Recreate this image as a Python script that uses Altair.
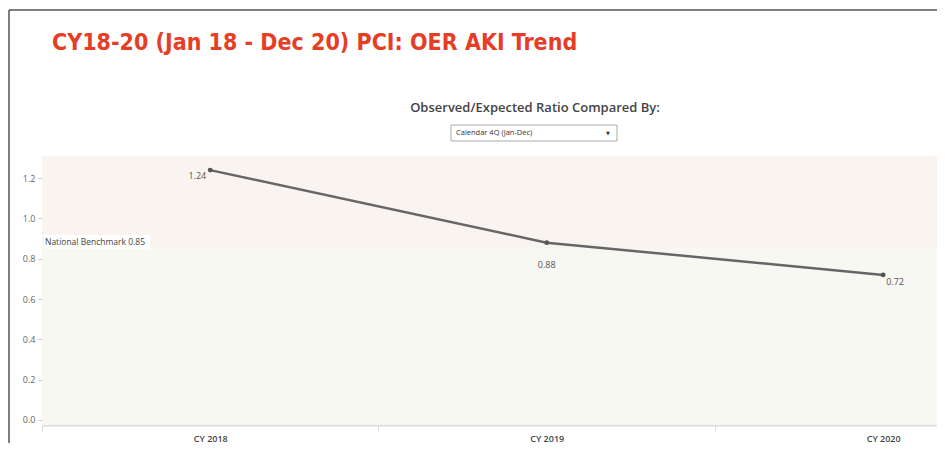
import json
import altair as alt
import pandas as pd

# ---- data ----
categories = ["CY 2018", "CY 2019", "CY 2020"]
ratios = [1.24, 0.88, 0.72]
benchmark = 0.85
benchmark_label = "National Benchmark 0.85"
y_ticks = [0.0, 0.2, 0.4, 0.6, 0.8, 1.0, 1.2]
title_text = "CY18-20 (Jan 18 - Dec 20) PCI: OER AKI Trend"
subtitle_text = "Observed/Expected Ratio Compared By:"
dropdown_text = "Calendar 4Q (Jan-Dec)"

# scale extents
y_domain = [-0.025, 1.31]
x_domain = [-0.5, 2.16]

W, H = 895, 269

df = pd.DataFrame({
    "idx": list(range(len(categories))),
    "cat": categories,
    "ratio": ratios,
    "label": [f"{v:.2f}" for v in ratios],
})

bands = pd.DataFrame({
    "lo": [benchmark, y_domain[0]],
    "hi": [y_domain[1], benchmark],
    "zone": ["above", "below"],
})

cats_js = json.dumps(categories)

x_scale = alt.Scale(domain=x_domain, nice=False, zero=False)
y_scale = alt.Scale(domain=y_domain, nice=False, zero=False)

x_axis = alt.Axis(
    values=[-0.5, 0, 0.5, 1, 1.5, 2],
    labelExpr=f"datum.value % 1 === 0 ? {cats_js}[datum.value] : ''",
    title=None, grid=False,
    labelColor="#444", labelFontSize=9, labelFontWeight=600, labelFont="Open Sans",
    labelPadding=3,
    domainColor="#dcdcdc", domainWidth=2,
    tickColor="#dcdcdc", tickSize=6,
    tickOpacity={"condition": {"test": "datum.value % 1 !== 0", "value": 1}, "value": 0},
)
y_axis = alt.Axis(
    values=y_ticks, format=".1f", title=None, grid=False,
    labelColor="#666", labelFontSize=9, labelFont="Open Sans", labelPadding=3,
    tickColor="#cccccc", tickSize=4, domainColor="#e6e6e6",
)

band_layer = alt.Chart(bands).mark_rect(opacity=1).encode(
    x=alt.datum(x_domain[0], type="quantitative", scale=x_scale, axis=x_axis),
    x2=alt.datum(x_domain[1]),
    y=alt.Y("lo:Q", scale=y_scale, axis=y_axis),
    y2="hi:Q",
    color=alt.Color("zone:N", scale=alt.Scale(domain=["above", "below"],
                                              range=["#f9f4ef", "#f7f8f1"]), legend=None),
)

bench_df = pd.DataFrame({"b": [benchmark], "t": [benchmark_label]})
bench_box = alt.Chart(bench_df).mark_rect(color="white", y2Offset=-14).encode(
    x=alt.value(2), x2=alt.value(108), y="b:Q", y2="b:Q")
bench_text = alt.Chart(bench_df).mark_text(
    align="left", baseline="bottom", dx=3, dy=-2, fontSize=8.5, font="Open Sans", color="#444"
).encode(x=alt.value(0), y="b:Q", text="t:N")

line = alt.Chart(df).mark_line(color="#666666", strokeWidth=2.5).encode(
    x=alt.X("idx:Q"), y=alt.Y("ratio:Q"))
pts = alt.Chart(df).mark_point(filled=True, size=24, color="#555555", opacity=1).encode(
    x="idx:Q", y="ratio:Q")

placements = [("right", -4, 6), ("center", 0, 22), ("left", 3, 7)]
label_layers = []
for c, (al, dx, dy) in zip(categories, placements):
    label_layers.append(
        alt.Chart(df).transform_filter(alt.datum.cat == c).mark_text(
            align=al, dx=dx, dy=dy, baseline="middle", fontSize=9, font="Open Sans", color="#555"
        ).encode(x="idx:Q", y="ratio:Q", text="label:N")
    )

one = pd.DataFrame({"t": [title_text], "s": [subtitle_text], "d": [dropdown_text], "a": ["▼"]})
title = alt.Chart(one).mark_text(
    align="left", baseline="alphabetic", fontSize=23, font="DejaVu Sans Condensed, Roboto",
    fontWeight="bold", color="#e63e26"
).encode(x=alt.value(10), y=alt.value(-106), text="t:N")
subtitle = alt.Chart(one).mark_text(
    align="center", baseline="middle", fontSize=13, font="Open Sans",
    fontWeight=600, color="#444"
).encode(x=alt.value(493), y=alt.value(-48), text="s:N")
dd_box = alt.Chart(one).mark_rect(fill="white", stroke="#aaaaaa", strokeWidth=1).encode(
    x=alt.value(409), x2=alt.value(575), y=alt.value(-31), y2=alt.value(-15))
dd_text = alt.Chart(one).mark_text(
    align="left", baseline="middle", fontSize=7.5, font="Open Sans", color="#333"
).encode(x=alt.value(414), y=alt.value(-23), text="d:N")
dd_arrow = alt.Chart(one).mark_text(
    align="center", baseline="middle", fontSize=5, font="DejaVu Sans", color="#333"
).encode(x=alt.value(566), y=alt.value(-23), text="a:N")

frame_left = alt.Chart(one).mark_rule(color="#555", strokeWidth=1.5).encode(
    x=alt.value(-33), y=alt.value(-146), y2=alt.value(300))
frame_top = alt.Chart(one).mark_rule(color="#555", strokeWidth=1.5).encode(
    x=alt.value(-33), x2=alt.value(W + 5), y=alt.value(-146))

chart = alt.layer(
    band_layer, bench_box, bench_text, line, pts, *label_layers,
    title, subtitle, dd_box, dd_text, dd_arrow, frame_left, frame_top,
).properties(
    width=W, height=H,
    autosize=alt.AutoSizeParams(type="none"),
    padding={"left": 34, "top": 148, "right": 0, "bottom": 18},
    background="white",
).configure_view(stroke=None)

chart.save("out.html", embed_options={"renderer": "svg", "actions": False})
